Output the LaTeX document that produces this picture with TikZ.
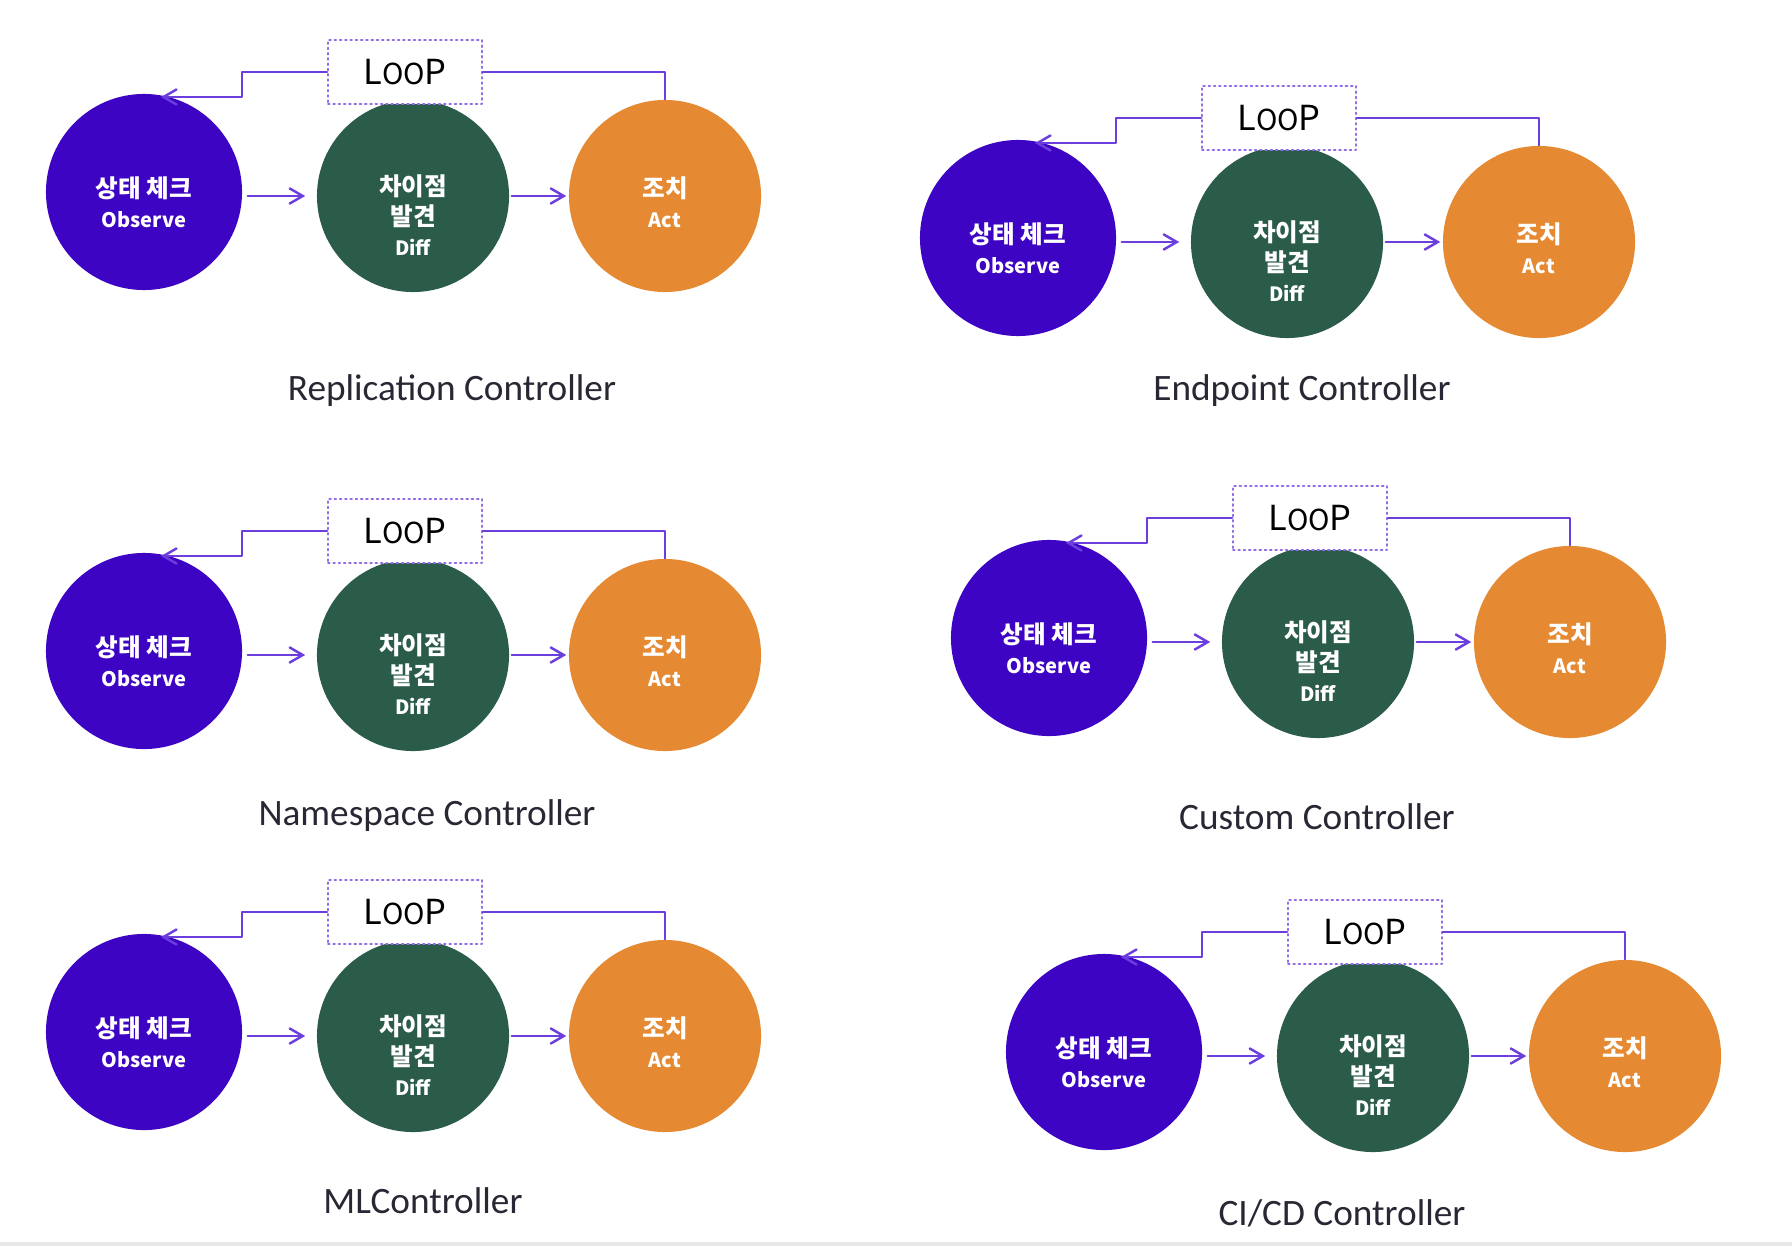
\documentclass[tikz,border=0pt]{standalone}
\usepackage{fontspec}
\usepackage{xcolor}
\usepackage{tikz}
\usetikzlibrary{arrows}
\newfontfamily\kfont{Noto Sans CJK KR}
\newfontfamily\capfont{Carlito}
\definecolor{obscol}{RGB}{62,4,196}
\definecolor{diffcol}{RGB}{43,92,74}
\definecolor{actcol}{RGB}{229,138,50}
\definecolor{loopcol}{RGB}{108,62,222}
\definecolor{capcol}{RGB}{40,40,52}
\tikzstyle{flow} = [line width=0.7pt,color=loopcol,->,>=angle 60]
\tikzstyle{state} = [circle,inner sep=0pt]
\tikzstyle{statetext} = [text=white,align=center,font=\kfont\bfseries\fontsize{7}{8.6}\selectfont]
\tikzstyle{loopbox} = [draw=loopcol!75,densely dotted,line width=0.5pt,fill=white,minimum width=1.54cm,minimum height=0.64cm,font=\kfont\fontsize{9.8}{9.8}\selectfont]
\tikzstyle{caption} = [anchor=base,text=capcol,font=\capfont\fontsize{10.6}{12}\selectfont]

\begin{document}
\begin{tikzpicture}[line cap=round,line join=round,x=0.01cm,y=-0.01cm]
    \useasboundingbox (0,0) rectangle (1792,1246);
    \fill[black!9] (0,1242) rectangle (1792,1246);
    \foreach \i/\ox/\oy in {1/144/192,2/1018/238,3/144/651,4/1049/638,5/144/1032,6/1104/1052} {
        \node[state,fill=obscol,minimum size=1.96cm] (obs\i) at (\ox,\oy) {};
        \node[state,fill=diffcol,minimum size=1.92cm] (diff\i) at (\ox+269,\oy+4) {};
        \node[state,fill=actcol,minimum size=1.92cm] (act\i) at (\ox+521,\oy+4) {};
        \node[statetext] (obstxt\i) at ([yshift=-0.1cm]obs\i.center) {상태 체크\\{\fontsize{5.7}{7}\selectfont Observe}};
        \node[statetext] (difftxt\i) at ([yshift=-0.19cm]diff\i.center) {차이점\\발견\\{\fontsize{5.6}{7}\selectfont Diff}};
        \node[statetext] (acttxt\i) at ([yshift=-0.06cm]act\i.center) {조치\\{\fontsize{5.6}{7}\selectfont Act}};
        \node[loopbox] (loop\i) at (\ox+261,\oy-120) {L{\fontsize{8.2}{8.2}\selectfont OO}P};
        \coordinate (bend\i) at (\ox+98,\oy-95);
        \coordinate (tip\i) at (\ox+17,\oy-95);
        \draw[flow,shorten <=0.05cm,shorten >=0.11cm] (obs\i.east |- diff\i.west) -- (diff\i.west);
        \draw[flow,shorten <=0.02cm,shorten >=0.02cm] (diff\i.east) -- (act\i.west);
        \draw[flow,-] (act\i.north) |- (loop\i.east);
        \draw[flow] (loop\i.west) -| (bend\i) -- (tip\i);
    }
    \node[caption] (cap1) at (452,400) {Replication Controller};
    \node[caption] (cap2) at (1302,400) {Endpoint Controller};
    \node[caption] (cap3) at (427,825) {Namespace Controller};
    \node[caption] (cap4) at (1317,829) {Custom Controller};
    \node[caption] (cap5) at (423,1213) {MLController};
    \node[caption] (cap6) at (1342,1225) {CI/CD Controller};
\end{tikzpicture}
\end{document}
